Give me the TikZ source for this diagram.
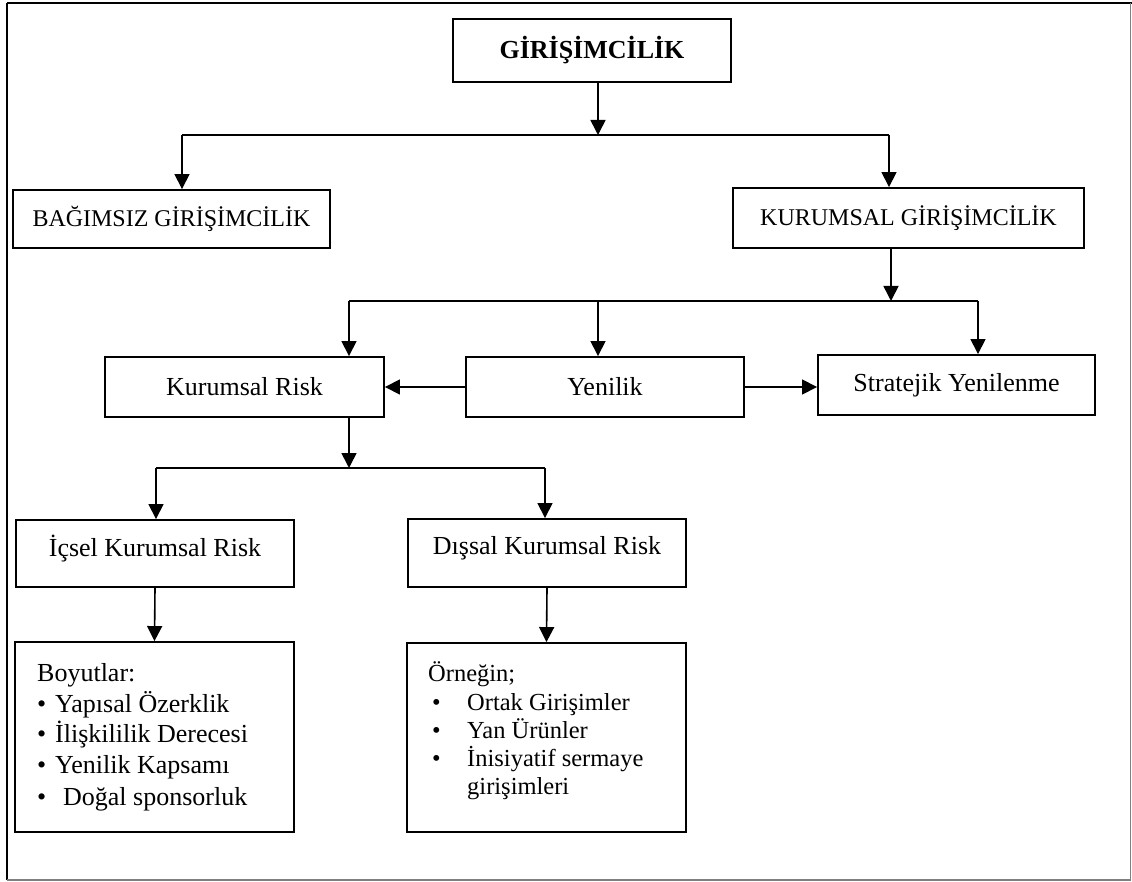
\documentclass[tikz,border=0pt]{standalone}
\usepackage{fontspec}
\setmainfont{Liberation Serif}
\usetikzlibrary{arrows.meta}
\begin{document}
\begin{tikzpicture}[x=1pt,y=-1pt,
  box/.style={draw, line width=1.9pt, inner sep=0pt, align=center,
    font=\fontsize{26}{31}\selectfont},
  caps/.style={font=\fontsize{24}{29}\selectfont},
  raised/.style={label={[font=\fontsize{26}{31}\selectfont, yshift=5pt]center:#1}},
  link/.style={line width=1.6pt},
  arr/.style={link, -{Triangle[length=15pt,width=15pt]}},
  listtext/.style={anchor=base west, inner sep=0pt, font=\fontsize{26}{31}\selectfont},
  listsmall/.style={listtext, font=\fontsize{24.5}{29}\selectfont}]
\useasboundingbox (0,0) rectangle (1132,882);

% outer frame
\draw[line width=2.5pt] (7,3) -- (1132,3);
\draw[line width=1.6pt] (7,3) -- (7,880);
\draw[line width=1.6pt, black!50] (7,880) -- (1130.5,880) -- (1130.5,3);

% boxes
\node[box, minimum width=278pt, minimum height=63pt] (gir) at (592,50.5) {\bfseries GİRİŞİMCİLİK};
\node[box, caps, minimum width=317pt, minimum height=58pt] (bag) at (171.5,219) {BAĞIMSIZ GİRİŞİMCİLİK};
\node[box, caps, minimum width=351pt, minimum height=60pt] (kur) at (908.5,218) {KURUMSAL GİRİŞİMCİLİK};
\node[box, minimum width=279pt, minimum height=60pt] (kr) at (244.5,387) {Kurumsal Risk};
\node[box, minimum width=278pt, minimum height=60pt] (yen) at (605,387) {Yenilik};
\node[box, minimum width=277pt, minimum height=60pt] (str) at (956.5,385) {Stratejik Yenilenme};
\node[box, minimum width=278pt, minimum height=67pt, raised={İçsel Kurumsal Risk}] (ic) at (155,553.5) {};
\node[box, minimum width=278pt, minimum height=68pt, raised={Dışsal Kurumsal Risk}] (dis) at (547,553) {};
\node[box, minimum width=279pt, minimum height=190pt] (dims) at (154.5,737) {};
\node[box, minimum width=279pt, minimum height=189pt] (ex) at (546.5,737.5) {};

% list in the left bottom box
\node[listtext] (d0) at (37,681) {Boyutlar:};
\node[listtext] (d1) at (37,712) {\makebox[18pt][l]{\textbullet}Yapısal Özerklik};
\node[listtext] (d2) at (37,742) {\makebox[18pt][l]{\textbullet}İlişkililik Derecesi};
\node[listtext] (d3) at (37,773) {\makebox[18pt][l]{\textbullet}Yenilik Kapsamı};
\node[listtext] (d4) at (37,805) {\makebox[26pt][l]{\textbullet}Doğal sponsorluk};

% list in the right bottom box
\node[listsmall] (e0) at (428,681) {Örneğin;};
\node[listsmall] (e1) at (432,710) {\makebox[35pt][l]{\textbullet}Ortak Girişimler};
\node[listsmall] (e2) at (432,738) {\makebox[35pt][l]{\textbullet}Yan Ürünler};
\node[listsmall] (e3) at (432,766) {\makebox[35pt][l]{\textbullet}İnisiyatif sermaye};
\node[listsmall] (e4) at (467,794) {girişimleri};

% branch points
\coordinate (j1) at (598,135);
\coordinate (j1l) at (182,135);
\coordinate (j1r) at (889,135);
\coordinate (j2) at (891,301);
\coordinate (j2l) at (349,301);
\coordinate (j2m) at (598,301);
\coordinate (j2r) at (978,301);
\coordinate (j3) at (349,468);
\coordinate (j3l) at (156,468);
\coordinate (j3r) at (545,468);

% connectors
\draw[arr] (gir.south -| j1) -- (j1);
\draw[link] (j1l) -- (j1r);
\draw[arr] (j1l) -- (j1l |- bag.north);
\draw[arr] (j1r) -- (j1r |- kur.north);

\draw[arr] (kur.south -| j2) -- (j2);
\draw[link] (j2l) -- (j2r);
\draw[arr] (j2l) -- (j2l |- kr.north);
\draw[arr] (j2m) -- (j2m |- yen.north);
\draw[arr] (j2r) -- (j2r |- str.north);

\draw[arr] (yen.west) -- (kr.east);
\draw[arr] (yen.east) -- (yen.east -| str.west);

\draw[arr] (kr.south -| j3) -- (j3);
\draw[link] (j3l) -- (j3r);
\draw[arr] (j3l) -- (j3l |- ic.north);
\draw[arr] (j3r) -- (j3r |- dis.north);

\draw[arr] (ic.south) -- (dims.north);
\draw[arr] (dis.south) -- (ex.north);
\end{tikzpicture}
\end{document}
